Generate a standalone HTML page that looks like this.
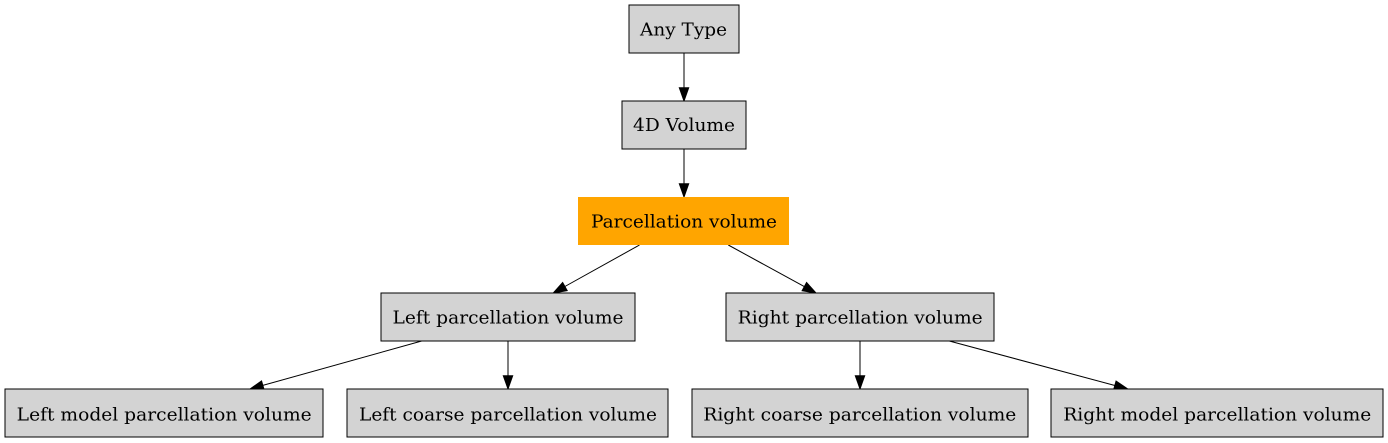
<!DOCTYPE html>
<html><head><meta charset="utf-8"><style>
html,body{margin:0;padding:0;background:#fff;}
svg{display:block;}
text{font-family:"DejaVu Serif","Liberation Serif",serif;font-size:18px;fill:#000;}
</style></head><body>
<svg width="1388" height="443" viewBox="0 0 1388 443" xmlns="http://www.w3.org/2000/svg">
<rect x="0" y="0" width="1388" height="443" fill="#fff"/>
<g stroke="#000" stroke-width="1" fill="none">
<line x1="684" y1="53" x2="684" y2="88"/>
<line x1="684" y1="149" x2="684" y2="184"/>
<line x1="639.5" y1="245" x2="564.9" y2="286.5"/>
<line x1="728.3" y1="245" x2="804.3" y2="286.6"/>
<line x1="421.7" y1="341" x2="262.8" y2="385.4"/>
<line x1="508" y1="341" x2="508" y2="376"/>
<line x1="860" y1="341" x2="860" y2="376"/>
<line x1="949.3" y1="341" x2="1114.9" y2="385.5"/>
</g>
<g fill="#000" stroke="#000" stroke-width="1">
<polygon points="684,101 679.3,87.7 688.7,87.7"/>
<polygon points="684,197 679.3,183.7 688.7,183.7"/>
<polygon points="553.3,293 562.65,282.45 567.19,290.61"/>
<polygon points="816,293 802.09,290.71 806.57,282.51"/>
<polygon points="250,389 261.55,380.92 264.07,389.6"/>
<polygon points="508,389 503.3,375.7 512.7,375.7"/>
<polygon points="860,389 855.3,375.7 864.7,375.7"/>
<polygon points="1127.7,389 1113.65,389.6 1116.07,381.03"/>
</g>
<g stroke="#000" stroke-width="1" fill="#d3d3d3">
<rect x="629" y="5" width="110" height="48"/>
<rect x="622" y="101" width="124" height="48"/>
<rect x="381" y="293" width="254" height="48"/>
<rect x="726" y="293" width="268" height="48"/>
<rect x="5" y="389" width="318" height="48"/>
<rect x="347" y="389" width="321" height="48"/>
<rect x="692" y="389" width="336" height="48"/>
<rect x="1051" y="389" width="332" height="48"/>
</g>
<rect x="578" y="197" width="211" height="48" fill="#ffa500"/>
<text x="640" y="35.5" textLength="87" lengthAdjust="spacingAndGlyphs">Any Type</text>
<text x="633" y="131" textLength="102" lengthAdjust="spacingAndGlyphs">4D Volume</text>
<text x="591" y="227.5" textLength="186" lengthAdjust="spacingAndGlyphs">Parcellation volume</text>
<text x="392.5" y="323.5" textLength="231" lengthAdjust="spacingAndGlyphs">Left parcellation volume</text>
<text x="737.7" y="323.5" textLength="245" lengthAdjust="spacingAndGlyphs">Right parcellation volume</text>
<text x="16.7" y="420.5" textLength="295" lengthAdjust="spacingAndGlyphs">Left model parcellation volume</text>
<text x="359" y="420.5" textLength="298" lengthAdjust="spacingAndGlyphs">Left coarse parcellation volume</text>
<text x="703.3" y="420.5" textLength="313" lengthAdjust="spacingAndGlyphs">Right coarse parcellation volume</text>
<text x="1063.3" y="420.5" textLength="308" lengthAdjust="spacingAndGlyphs">Right model parcellation volume</text>
</svg>
</body></html>
